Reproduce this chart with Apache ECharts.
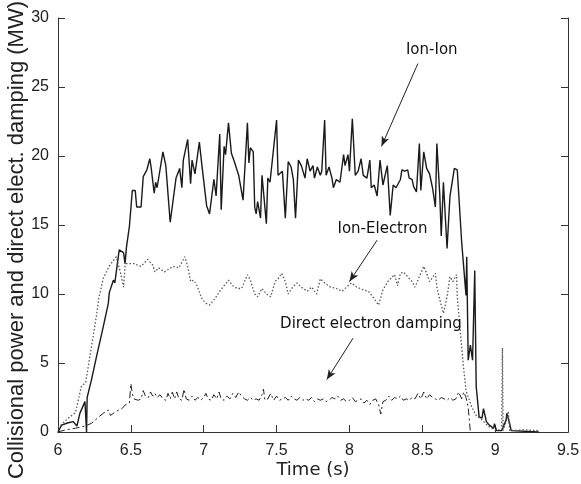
<!DOCTYPE html>
<html>
<head>
<meta charset="utf-8">
<script src="https://cdn.jsdelivr.net/npm/echarts@6/dist/echarts.min.js"></script>
<style>
  html, body { margin: 0; padding: 0; background: #fff; }
  #chart { width: 581px; height: 484px; }
</style>
</head>
<body>
<div id="chart"></div>
<script>
// 数据: [时间 (s), 功率 (MW)]
var ionIon = [
  [6.0,0],[6.025,0.5],[6.07,0.67],[6.105,0.75],[6.13,0.43],[6.15,1.35],[6.185,2.2],[6.193,2.3],[6.196,0],[6.2,2.5],
  [6.23,3.8],[6.265,5.5],[6.31,7.6],[6.345,9.3],[6.352,10.1],[6.38,11.0],[6.39,10.8],[6.42,13.2],[6.45,13.0],[6.46,12.2],
  [6.47,13.4],[6.49,14.9],[6.51,17.5],[6.53,17.5],[6.54,16.3],[6.57,16.3],[6.585,18.5],[6.61,19.0],[6.63,19.8],[6.64,19.1],
  [6.66,17.3],[6.67,18.1],[6.68,17.7],[6.72,20.3],[6.74,19.3],[6.75,19.3],[6.77,15.2],[6.78,15.1],[6.81,18.4],[6.82,18.3],
  [6.835,19.1],[6.85,17.7],[6.86,19.7],[6.89,21.2],[6.91,18.0],[6.92,19.7],[6.94,18.7],[6.97,21.0],[6.99,19.1],[7.02,16.4],
  [7.04,15.8],[7.07,18.3],[7.085,17.1],[7.11,21.6],[7.12,16.1],[7.14,20.7],[7.15,20.1],[7.17,22.4],[7.19,20.2],[7.21,19.6],
  [7.24,18.6],[7.27,16.8],[7.28,16.9],[7.30,22.4],[7.31,19.5],[7.32,20.6],[7.34,20.3],[7.35,16.3],[7.36,15.8],[7.37,16.7],
  [7.39,15.5],[7.40,18.6],[7.43,15.1],[7.44,18.4],[7.455,18.1],[7.47,19.6],[7.48,19.7],[7.50,22.6],[7.51,18.6],[7.54,18.9],
  [7.56,15.5],[7.58,19.6],[7.60,19.2],[7.615,18.3],[7.63,15.5],[7.65,19.7],[7.67,19.3],[7.695,18.4],[7.71,19.8],[7.73,18.9],
  [7.75,19.3],[7.76,18.4],[7.78,19.2],[7.80,18.6],[7.81,18.9],[7.83,22.6],[7.84,18.6],[7.86,19.2],[7.88,18.4],[7.89,17.7],
  [7.91,18.3],[7.935,18.1],[7.96,20.1],[7.97,19.3],[7.99,20.1],[8.00,18.9],[8.02,22.7],[8.04,18.6],[8.06,18.9],[8.08,19.8],
  [8.095,18.6],[8.12,18.4],[8.14,19.7],[8.15,17.7],[8.17,17.9],[8.19,17.1],[8.21,19.7],[8.23,17.9],[8.24,18.0],[8.26,19.3],
  [8.28,15.7],[8.30,17.9],[8.32,17.7],[8.35,18.3],[8.36,19.0],[8.38,18.9],[8.40,19.0],[8.41,18.4],[8.43,18.3],[8.44,17.8],
  [8.46,17.4],[8.48,20.9],[8.49,17.5],[8.51,20.3],[8.53,19.1],[8.55,18.7],[8.57,17.7],[8.59,16.3],[8.60,20.9],[8.62,17.2],
  [8.63,14.2],[8.645,18.1],[8.67,13.3],[8.69,17.1],[8.72,19.1],[8.73,19.2],[8.74,19.0],[8.77,13.8],[8.78,13.9],[8.80,9.9],
  [8.805,12.7],[8.815,5.2],[8.83,6.3],[8.845,5.2],[8.86,11.7],[8.87,3.3],[8.89,1.1],[8.91,1.0],[8.92,1.7],[8.94,0.75],
  [8.96,0.5],[8.99,0.27],[8.995,0.6],[9.01,0.1],[9.045,0.1],[9.075,0.87],[9.08,1.35],[9.10,0.6],[9.11,0.1],[9.3,0]
];

var ionElectron = [
  [6.0,0.3],[6.07,1.0],[6.12,1.4],[6.16,3.3],[6.19,3.6],[6.23,6.2],[6.265,8.5],[6.28,9.7],[6.31,11.1],[6.35,12.0],
  [6.40,12.7],[6.43,11.5],[6.45,10.5],[6.46,12.0],[6.47,12.2],[6.52,12.2],[6.57,12.0],[6.615,12.5],[6.65,12.1],[6.665,11.6],
  [6.69,11.9],[6.73,11.6],[6.79,12.0],[6.83,11.9],[6.87,12.7],[6.89,12.0],[6.91,10.9],[6.93,11.0],[6.95,10.7],[6.99,9.6],
  [7.02,9.3],[7.04,9.2],[7.08,9.7],[7.11,10.2],[7.14,10.6],[7.17,11.0],[7.20,10.6],[7.23,10.4],[7.26,10.4],[7.30,11.4],
  [7.32,11.0],[7.35,10.0],[7.37,9.8],[7.40,10.4],[7.43,10.0],[7.46,9.8],[7.49,10.9],[7.51,11.1],[7.535,11.5],[7.56,10.9],
  [7.58,10.0],[7.61,10.5],[7.64,10.8],[7.67,10.5],[7.71,10.2],[7.74,10.5],[7.775,10.0],[7.80,11.1],[7.83,10.8],[7.87,10.5],
  [7.91,10.4],[7.95,10.2],[7.98,10.5],[8.015,10.8],[8.05,10.5],[8.095,10.3],[8.13,10.2],[8.16,9.8],[8.20,9.2],[8.23,10.3],
  [8.27,11.0],[8.31,11.4],[8.33,10.6],[8.35,11.5],[8.37,11.6],[8.40,11.25],[8.43,10.9],[8.45,10.5],[8.47,11.0],[8.51,12.0],
  [8.53,11.5],[8.55,10.9],[8.59,11.5],[8.60,10.5],[8.62,9.6],[8.645,8.6],[8.67,9.8],[8.69,11.25],[8.71,10.9],[8.735,11.4],
  [8.74,9.8],[8.76,7.4],[8.78,5.0],[8.80,3.0],[8.84,1.8],[8.87,1.2],[8.91,0.87],[8.955,0.4],[9.0,0.15],[9.045,0.15],
  [9.05,6.1],[9.055,0.1],[9.085,1.1],[9.09,1.5],[9.10,0.1],[9.20,0.15],[9.30,0.1]
];

var directDamping = [
  [6.0,0],[6.05,0.15],[6.12,0.27],[6.185,0.43],[6.23,0.63],[6.28,1.1],[6.31,1.35],[6.345,1.6],[6.36,1.2],[6.40,1.5],
  [6.44,1.7],[6.46,1.95],[6.49,2.1],[6.50,3.5],[6.51,2.8],[6.52,2.4],[6.55,2.3],[6.57,2.4],[6.585,3.0],[6.60,2.6],
  [6.62,2.5],[6.635,2.9],[6.65,2.6],[6.665,2.8],[6.68,2.5],[6.70,2.7],[6.72,2.4],[6.74,2.3],[6.755,2.8],[6.77,2.4],
  [6.785,2.9],[6.80,2.4],[6.815,2.9],[6.83,2.4],[6.85,2.3],[6.865,3.1],[6.88,2.4],[6.90,2.3],[6.92,2.6],[6.94,2.3],
  [6.96,2.5],[6.98,2.3],[7.0,2.5],[7.015,2.8],[7.03,2.4],[7.05,2.3],[7.07,2.7],[7.09,2.4],[7.105,2.9],[7.12,2.4],
  [7.14,2.3],[7.16,2.6],[7.18,2.4],[7.20,2.8],[7.22,2.5],[7.24,2.9],[7.26,2.6],[7.28,2.4],[7.30,2.3],[7.32,2.5],
  [7.34,2.3],[7.36,2.4],[7.38,2.3],[7.40,2.7],[7.41,3.1],[7.42,2.3],[7.44,2.4],[7.46,2.8],[7.48,2.3],[7.50,2.6],
  [7.52,2.3],[7.54,2.4],[7.56,2.5],[7.58,2.3],[7.60,2.6],[7.62,2.4],[7.64,2.3],[7.66,2.5],[7.68,2.3],[7.70,2.4],
  [7.72,2.3],[7.74,2.5],[7.76,2.2],[7.78,2.4],[7.80,2.3],[7.82,2.4],[7.84,2.2],[7.86,2.3],[7.88,2.5],[7.90,2.4],
  [7.92,2.6],[7.94,2.3],[7.96,2.4],[7.98,2.2],[8.00,2.3],[8.02,2.5],[8.04,2.2],[8.06,2.3],[8.08,2.4],[8.10,2.1],
  [8.12,2.3],[8.14,2.0],[8.16,2.3],[8.18,2.4],[8.20,2.0],[8.215,1.3],[8.23,2.2],[8.25,2.3],[8.27,2.6],[8.29,2.3],
  [8.31,2.5],[8.33,2.4],[8.35,2.6],[8.37,2.3],[8.39,2.4],[8.41,2.3],[8.43,2.5],[8.45,2.4],[8.47,2.8],[8.49,2.4],
  [8.51,2.9],[8.53,2.4],[8.55,2.7],[8.57,2.5],[8.59,2.4],[8.61,2.3],[8.63,2.5],[8.65,2.4],[8.67,2.3],[8.69,2.5],
  [8.71,2.3],[8.73,2.4],[8.75,2.9],[8.77,2.4],[8.785,2.9],[8.80,2.5],[8.815,1.8],[8.83,0]
];

// 注释: 文字位置与箭头 (数据坐标)
var labelTexts = ['Ion-Ion', 'Ion-Electron', 'Direct electron damping'];
var labelPos = [[8.565, 27.7], [8.227, 14.7], [8.148, 7.85]];
var arrowFrom = [[8.47, 26.7], [8.19, 13.9], [8.025, 6.8]];
var arrowTo = [[8.22, 20.7], [8.0, 10.9], [7.845, 3.8]];

var chart = echarts.init(document.getElementById('chart'));

var axisColor = '#333';
var tickFont = { fontFamily: 'Liberation Sans', fontSize: 16, color: '#222' };

chart.setOption({
  animation: false,
  backgroundColor: '#fff',
  grid: { left: 58, right: 13, top: 18, bottom: 52, outerBoundsMode: 'none', containLabel: false },
  xAxis: [
    {
      type: 'value', min: 6, max: 9.5, interval: 0.5,
      name: 'Time (s)', nameLocation: 'middle', nameGap: 29, nameMoveOverlap: false,
      nameTextStyle: { fontFamily: 'DejaVu Sans', fontSize: 18, color: '#222' },
      axisLine: { lineStyle: { color: axisColor } },
      axisTick: { inside: true, length: 7, lineStyle: { color: axisColor } },
      axisLabel: Object.assign({ margin: 11 }, tickFont),
      splitLine: { show: false }
    },
    {
      type: 'value', position: 'top', min: 6, max: 9.5, interval: 0.5,
      axisLine: { show: true, lineStyle: { color: axisColor } },
      axisTick: { show: false },
      axisLabel: { show: false },
      splitLine: { show: false }
    }
  ],
  yAxis: [
    {
      type: 'value', min: 0, max: 30, interval: 5,
      name: 'Collisional power and direct elect. damping (MW)',
      nameLocation: 'middle', nameGap: 30, nameMoveOverlap: false,
      nameTextStyle: {
        fontFamily: 'Liberation Sans', fontSize: 22, color: '#222',
        padding: [0, 30, 0, 0]
      },
      axisLine: { show: true, lineStyle: { color: axisColor } },
      axisTick: { inside: true, length: 7, lineStyle: { color: axisColor } },
      axisLabel: Object.assign({ margin: 9 }, tickFont),
      splitLine: { show: false }
    },
    {
      type: 'value', position: 'right', min: 0, max: 30, interval: 5,
      axisLine: { show: true, lineStyle: { color: axisColor } },
      axisTick: { show: true, inside: true, length: 7, lineStyle: { color: axisColor } },
      axisLabel: { show: false },
      splitLine: { show: false }
    }
  ],
  series: [
    {
      name: 'Ion-Ion', type: 'line', data: ionIon, symbol: 'none',
      lineStyle: { color: '#1a1a1a', width: 1.4 },
      markLine: {
        silent: true, symbol: ['none', 'arrow'], symbolSize: [6, 10],
        lineStyle: { color: '#222', width: 1, type: 'solid' },
        label: { show: false },
        data: arrowFrom.map(function (p, i) {
          return [{ coord: p }, { coord: arrowTo[i] }];
        })
      },
      markPoint: {
        silent: true, symbol: 'circle', symbolSize: 0,
        label: {
          show: true, position: 'inside', color: '#111',
          fontFamily: 'DejaVu Sans', fontSize: 15,
          formatter: function (p) { return p.name; }
        },
        data: labelTexts.map(function (t, i) {
          return { name: t, coord: labelPos[i] };
        })
      }
    },
    {
      name: 'Ion-Electron', type: 'line', data: ionElectron, symbol: 'none',
      lineStyle: { color: '#555', width: 1.3, type: [1.5, 2] }
    },
    {
      name: 'Direct electron damping', type: 'line', data: directDamping, symbol: 'none',
      lineStyle: { color: '#222', width: 1, type: [7, 3, 2, 3] }
    }
  ]
});
</script>
</body>
</html>
